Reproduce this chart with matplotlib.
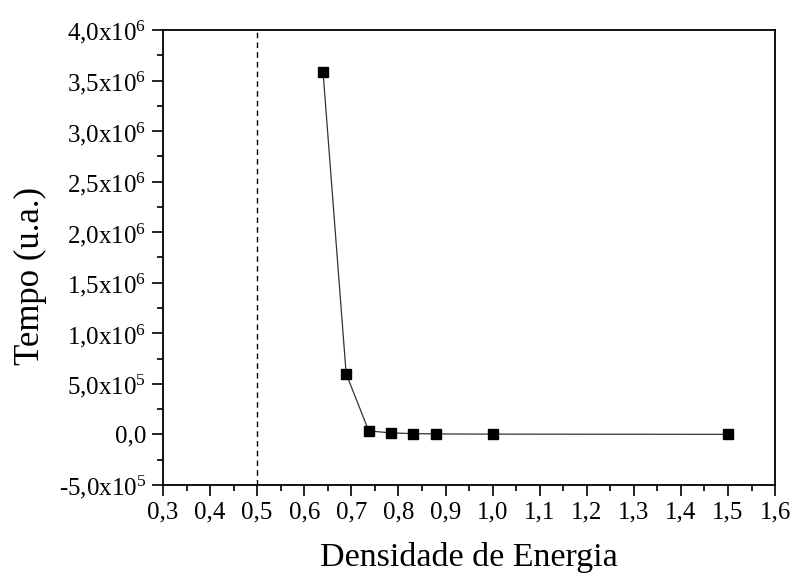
import numpy as np
import matplotlib
matplotlib.use("Agg")
import matplotlib.pyplot as plt
from matplotlib.ticker import MultipleLocator, FuncFormatter

plt.rcParams['font.family'] = ['Liberation Serif', 'DejaVu Serif']
plt.rcParams['mathtext.fontset'] = 'custom'
plt.rcParams['mathtext.rm'] = 'Liberation Serif'
plt.rcParams['mathtext.it'] = 'Liberation Serif:italic'

densidade = [0.64, 0.689, 0.737, 0.784, 0.831, 0.88, 1.0, 1.5]
tempo = [3.58e6, 6.0e5, 3.5e4, 1.5e4, 8e3, 5e3, 3e3, 1e3]
limite = 0.5


def fmt_y(v, pos):
    if abs(v) < 1:
        return "0,0"
    exp = int(np.floor(np.log10(abs(v))))
    mant = v / 10**exp
    return ("%.1f" % mant).replace(".", ",") + r"x10$^{%d}$" % exp


fig = plt.figure(figsize=(7.95, 5.76), dpi=100)
ax = fig.add_axes([0.205, 0.158, 0.77, 0.79])

ax.axvline(limite, color='black', linestyle='--', linewidth=1, dashes=(4, 3))
ax.plot(densidade, tempo, color='#333333', linewidth=0.9, marker='s',
        markersize=7, markerfacecolor='black', markeredgecolor='black')

ax.set_xlim(0.3, 1.6)
ax.set_ylim(-5e5, 4e6)
ax.xaxis.set_major_locator(MultipleLocator(0.1))
ax.xaxis.set_minor_locator(MultipleLocator(0.05))
ax.yaxis.set_major_locator(MultipleLocator(5e5))
ax.yaxis.set_minor_locator(MultipleLocator(2.5e5))
ax.xaxis.set_major_formatter(FuncFormatter(lambda v, p: ("%.1f" % v).replace(".", ",")))
ax.yaxis.set_major_formatter(FuncFormatter(fmt_y))

ax.tick_params(which='both', direction='out', top=False, right=False, width=1.2)
ax.tick_params(which='major', length=8, labelsize=18, pad=4)
ax.tick_params(which='minor', length=4)
for s in ax.spines.values():
    s.set_linewidth(1.3)

ax.set_xlabel('Densidade de Energia', fontsize=24.5, labelpad=13)
ax.set_ylabel('Tempo (u.a.)', fontsize=25)
ax.yaxis.set_label_coords(-0.19, 0.46)

plt.savefig("out.png", dpi=100)
